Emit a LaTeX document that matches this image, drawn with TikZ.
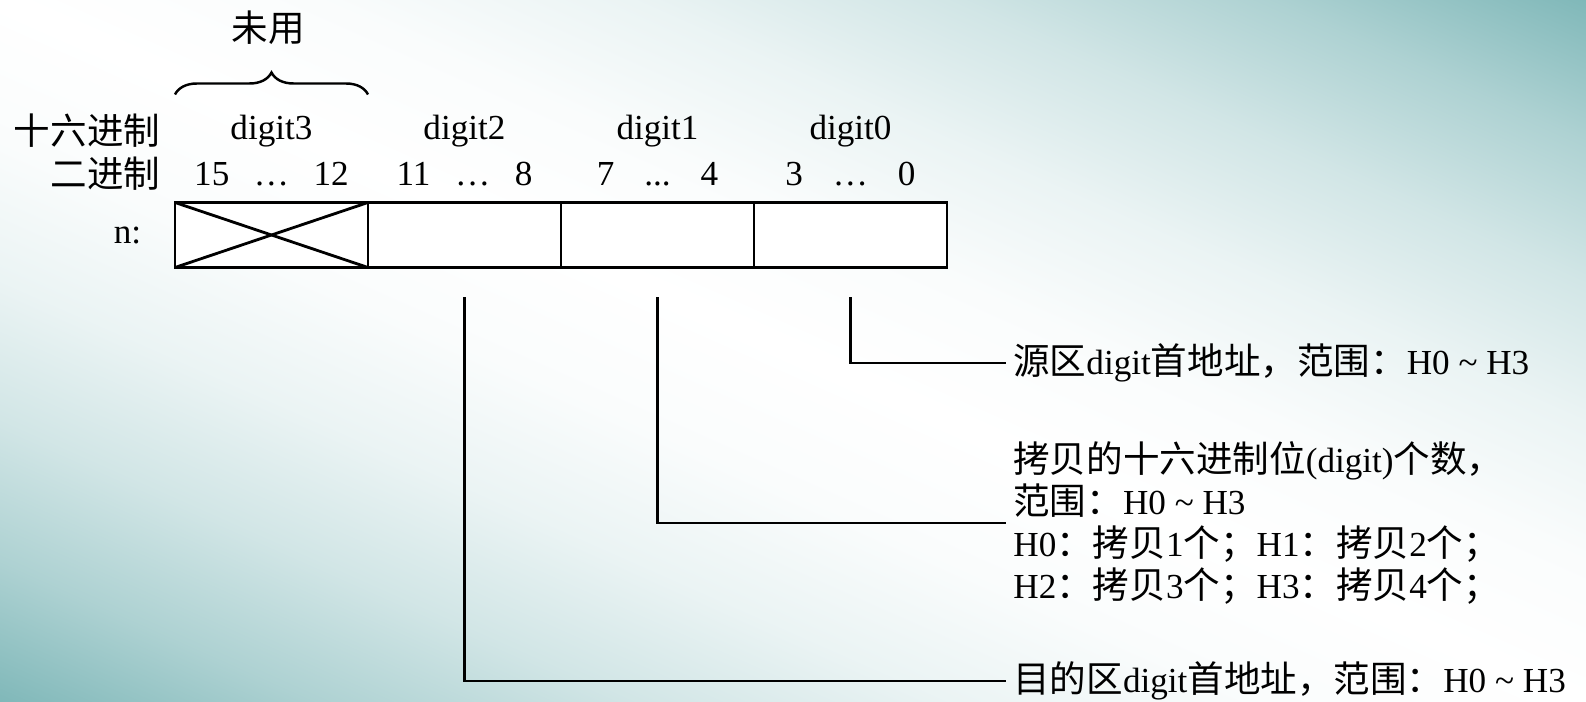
\documentclass[tikz,border=0pt]{standalone}
\usepackage{fontspec}
\setmainfont{Liberation Serif}
\newfontfamily\cjk[Scale=1.04]{Noto Sans CJK SC}
\definecolor{bgteal}{RGB}{128,184,185}
\usetikzlibrary{positioning,decorations.pathreplacing}
\newcommand{\zh}[1]{{\cjk #1}}
\pgfdeclareverticalshading{bgfade}{100bp}{color(0bp)=(bgteal); color(25bp)=(bgteal);
  color(30bp)=(bgteal!64!white); color(35bp)=(bgteal!36!white); color(40bp)=(bgteal!16!white);
  color(45bp)=(bgteal!4!white); color(50bp)=(white); color(55bp)=(bgteal!4!white);
  color(60bp)=(bgteal!16!white); color(65bp)=(bgteal!36!white); color(70bp)=(bgteal!64!white);
  color(75bp)=(bgteal); color(100bp)=(bgteal)}

\begin{document}
\begin{tikzpicture}[
    cellbox/.style={rectangle, draw=black, fill=white, line width=1.6pt,
                    minimum width=3.86cm, minimum height=1.3cm,
                    inner sep=0pt, outer sep=0pt},
    lbl/.style={font=\fontsize{20}{24}\selectfont, inner sep=2pt},
    note/.style={font=\fontsize{20}{24}\selectfont, anchor=west, align=left,
                 inner sep=4pt},
    link/.style={line width=1.6pt, black}
  ]
  \useasboundingbox (0,0) rectangle (31.72,-14.04);
  \begin{scope}
    \clip (0,0) rectangle (31.72,-14.04);
    \begin{scope}[transform canvas={rotate around={-23.9:(15.86,-7.02)}}]
      \shade[shading=bgfade] (-2.14,-19.86) rectangle (33.86,5.82);
    \end{scope}
  \end{scope}

  \node[cellbox] (d3) at (5.43,-4.70) {};
  \node[cellbox, right=0pt of d3] (d2) {};
  \node[cellbox, right=0pt of d2] (d1) {};
  \node[cellbox, right=0pt of d1] (d0) {};
  \draw[link] (d3.north west) -- (d3.south east);
  \draw[link] (d3.south west) -- (d3.north east);

  \node[lbl] (h3) at ([yshift=1.42cm]d3.north) {digit3};
  \node[lbl] (h2) at ([yshift=1.42cm]d2.north) {digit2};
  \node[lbl] (h1) at ([yshift=1.42cm]d1.north) {digit1};
  \node[lbl] (h0) at ([yshift=1.42cm]d0.north) {digit0};
  \node[lbl] (b3) at ([yshift=0.56cm]d3.north) {15\hspace{0.7em}…\hspace{0.7em}12};
  \node[lbl] (b2) at ([yshift=0.56cm]d2.north) {11\hspace{0.7em}…\hspace{0.7em}8};
  \node[lbl] (b1) at ([yshift=0.56cm]d1.north) {7\hspace{0.85em}...\hspace{0.85em}4};
  \node[lbl] (b0) at ([yshift=0.56cm]d0.north) {3\hspace{0.85em}…\hspace{0.85em}0};

  \node[lbl, anchor=east] (hexrow) at (3.28,-2.62) {\zh{十六进制}};
  \node[lbl, anchor=east] (binrow) at (3.28,-3.48) {\zh{二进制}};
  \node[lbl, anchor=east] (nrow)   at (2.90,-4.70) {n:};

  \coordinate (bl) at ([yshift=2.16cm]d3.north west);
  \coordinate (br) at ([yshift=2.16cm]d3.north east);
  \draw[link, line width=1.4pt, decorate, decoration={brace, amplitude=0.44cm}] (bl) -- (br);
  \node[lbl] (unused) at (5.36,-0.56) {\zh{未用}};

  \coordinate (s0) at ([yshift=-0.6cm]d0.south);
  \coordinate (s1) at ([yshift=-0.6cm]d1.south);
  \coordinate (s2) at ([yshift=-0.6cm]d2.south);

  \node[note] (src) at (20.12,-7.26)
    {\zh{源区}digit\zh{首地址，范围：}H0 \textasciitilde{} H3};
  \node[note] (cnt) at (20.12,-10.46)
    {\zh{拷贝的十六进制位}(digit)\zh{个数，}\\
     \zh{范围：}H0 \textasciitilde{} H3\\
     H0\zh{：拷贝}1\zh{个；}H1\zh{：拷贝}2\zh{个；}\\
     H2\zh{：拷贝}3\zh{个；}H3\zh{：拷贝}4\zh{个；}};
  \node[note] (dst) at (20.12,-13.62)
    {\zh{目的区}digit\zh{首地址，范围：}H0 \textasciitilde{} H3};

  \draw[link] (s0) |- (src.west);
  \draw[link] (s1) |- (cnt.west);
  \draw[link] (s2) |- (dst.west);
\end{tikzpicture}
\end{document}
